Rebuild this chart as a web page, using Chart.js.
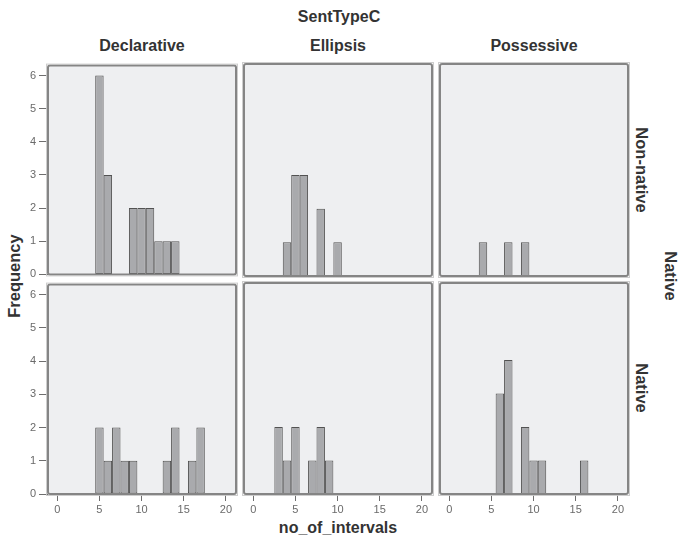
<!DOCTYPE html>
<html>
<head>
<meta charset="utf-8">
<script src="https://cdn.jsdelivr.net/npm/chart.js@4/dist/chart.umd.min.js"></script>
<style>
  html, body { margin: 0; padding: 0; }
  body { width: 681px; height: 547px; background: #fff; position: relative; overflow: hidden;
         font-family: "Liberation Sans", Arial, sans-serif; }
  canvas.panel { position: absolute; }
  .lbl { position: absolute; font-weight: bold; color: #333; white-space: nowrap;
         transform: translate(-50%, -50%); line-height: 1; font-size: 16px; }
  .cw  { transform: translate(-50%, -50%) rotate(90deg); }
  .ccw { transform: translate(-50%, -50%) rotate(-90deg); }
</style>
</head>
<body>
<div class="lbl" style="left:339px;top:17px">SentTypeC</div>
<div class="lbl" style="left:142px;top:46px">Declarative</div>
<div class="lbl" style="left:338px;top:46px">Ellipsis</div>
<div class="lbl" style="left:534px;top:46px">Possessive</div>
<div class="lbl cw" style="left:642px;top:170px;font-size:16.5px">Non-native</div>
<div class="lbl cw" style="left:642px;top:388px;font-size:16.5px">Native</div>
<div class="lbl cw" style="left:671px;top:276px;font-size:16.5px">Native</div>
<div class="lbl ccw" style="left:14px;top:276px;font-size:16.5px">Frequency</div>
<div class="lbl" style="left:338px;top:528px">no_of_intervals</div>

<script>
// Histogram bins (interval counts, one bar per integer)
const binCenters = [0, 1, 2, 3, 4, 5, 6, 7, 8, 9, 10, 11, 12, 13, 14, 15, 16, 17, 18, 19, 20];

// Frequencies per bin, SentTypeC x Native group
const declarativeNonNative = [0, 0, 0, 0, 0, 6, 3, 0, 0, 2, 2, 2, 1, 1, 1, 0, 0, 0, 0, 0, 0];
const ellipsisNonNative    = [0, 0, 0, 0, 1, 3, 3, 0, 2, 0, 1, 0, 0, 0, 0, 0, 0, 0, 0, 0, 0];
const possessiveNonNative  = [0, 0, 0, 0, 1, 0, 0, 1, 0, 1, 0, 0, 0, 0, 0, 0, 0, 0, 0, 0, 0];
const declarativeNative    = [0, 0, 0, 0, 0, 2, 1, 2, 1, 1, 0, 0, 0, 1, 2, 0, 1, 2, 0, 0, 0];
const ellipsisNative       = [0, 0, 0, 2, 1, 2, 0, 1, 2, 1, 0, 0, 0, 0, 0, 0, 0, 0, 0, 0, 0];
const possessiveNative     = [0, 0, 0, 0, 0, 0, 3, 4, 0, 2, 1, 1, 0, 0, 0, 0, 1, 0, 0, 0, 0];

// Axis ticks
const xTickValues = [0, 5, 10, 15, 20];
const yTickValues = [0, 1, 2, 3, 4, 5, 6];

const panelRows = [
  [declarativeNonNative, ellipsisNonNative, possessiveNonNative],
  [declarativeNative, ellipsisNative, possessiveNative]
];

// Panel plot-area geometry (px)
const colLeft = [48, 244, 440];
const panelW = 188;
const rowTop = [64, 283];
const rowH = [212, 211];

const X_MIN = -1.1, X_MAX = 21.2;
const Y_MIN = 0, Y_MAX = 6.3;

// Panel background and frame
const panelFrame = {
  id: 'panelFrame',
  beforeDraw(chart) {
    const { ctx, chartArea: a } = chart;
    ctx.save();
    ctx.fillStyle = '#eeeff1';
    ctx.fillRect(a.left, a.top, a.width, a.height);
    ctx.restore();
  },
  afterDatasetsDraw(chart) {
    const { ctx, chartArea: a } = chart;
    ctx.save();
    ctx.strokeStyle = '#858585';
    ctx.lineWidth = 2;
    ctx.beginPath();
    ctx.roundRect(a.left, a.top, a.width, a.height, 2);
    ctx.stroke();
    ctx.strokeStyle = 'rgba(200,200,200,0.9)';
    ctx.lineWidth = 1;
    ctx.strokeRect(a.left - 1.5, a.top - 1.5, a.width + 3, a.height + 3);
    ctx.restore();
  }
};

const tickFont = { family: '"Liberation Sans", Arial, sans-serif', size: 11 };

panelRows.forEach((row, r) => {
  row.forEach((counts, c) => {
    const showX = r === 1, showY = c === 0;
    const padL = showY ? 48 : 4;
    const padT = 8, padR = 4;
    const padB = showX ? 30 : 8;
    const cv = document.createElement('canvas');
    cv.className = 'panel';
    const w = panelW + padL + padR;
    const h = rowH[r] + padT + padB;
    cv.style.left = (colLeft[c] - padL) + 'px';
    cv.style.top = (rowTop[r] - padT) + 'px';
    cv.style.width = w + 'px';
    cv.style.height = h + 'px';
    cv.width = w; cv.height = h;
    document.body.appendChild(cv);

    new Chart(cv, {
      type: 'bar',
      data: {
        datasets: [{
          data: binCenters.map((b, i) => ({ x: b, y: counts[i] === 0 ? null : counts[i] })),
          backgroundColor: '#a9aaad',
          borderColor: '#525252',
          borderWidth: 1,
          borderSkipped: false,
          barPercentage: 1,
          categoryPercentage: 1,
          inflateAmount: 0
        }]
      },
      options: {
        responsive: false,
        animation: false,
        devicePixelRatio: 1,
        layout: { padding: { top: padT, right: padR, left: showY ? 0 : padL, bottom: showX ? 0 : padB } },
        plugins: { legend: { display: false }, tooltip: { enabled: false } },
        scales: {
          x: {
            type: 'linear',
            min: X_MIN, max: X_MAX,
            offset: false,
            display: showX,
            afterBuildTicks: s => { s.ticks = xTickValues.map(v => ({ value: v })); },
            afterFit: s => { if (showX) s.height = padB; },
            border: { display: false },
            grid: { offset: false, drawOnChartArea: false, drawTicks: true, tickLength: 7, color: '#6e6e6e', lineWidth: 1 },
            ticks: { font: tickFont, color: '#6a6a6a', padding: 2, maxRotation: 0, autoSkip: false }
          },
          y: {
            min: Y_MIN, max: Y_MAX,
            display: showY,
            afterBuildTicks: s => { s.ticks = yTickValues.map(v => ({ value: v })); },
            afterFit: s => { if (showY) s.width = 48; },
            border: { display: false },
            grid: { drawOnChartArea: false, drawTicks: true, tickLength: 9, color: '#6e6e6e', lineWidth: 1 },
            ticks: { font: tickFont, color: '#6a6a6a', padding: 3 }
          }
        }
      },
      plugins: [panelFrame]
    });
  });
});
</script>
</body>
</html>
